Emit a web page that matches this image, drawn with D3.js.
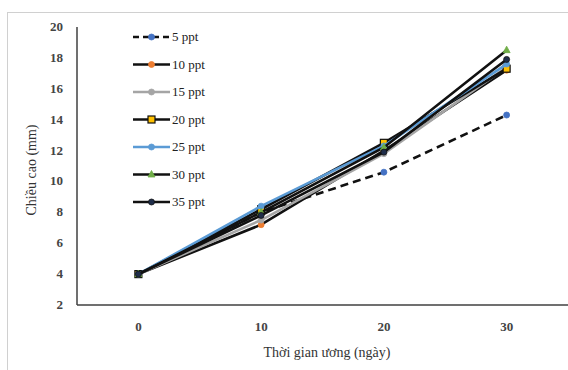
<!DOCTYPE html>
<html>
<head>
<meta charset="utf-8">
<script src="https://cdn.jsdelivr.net/npm/d3@7.9.0/dist/d3.min.js"></script>
<style>
  body { margin: 0; background: #fff; }
</style>
</head>
<body>
<div id="vis"></div>
<script>
// data
const days = ["0", "10", "20", "30"];
const seriesNames = ["5 ppt", "10 ppt", "15 ppt", "20 ppt", "25 ppt", "30 ppt", "35 ppt"];
const s5 = [4.0, 8.0, 10.6, 14.3];
const s10 = [4.0, 7.2, 12.0, 17.2];
const s15 = [4.0, 7.5, 11.8, 17.4];
const s20 = [4.0, 8.2, 12.5, 17.3];
const s25 = [4.0, 8.4, 12.3, 17.6];
const s30 = [4.0, 8.0, 12.2, 18.5];
const s35 = [4.0, 7.8, 11.9, 17.9];
const yTicks = [2, 4, 6, 8, 10, 12, 14, 16, 18, 20];

const width = 568;
const height = 370;
const serif = "Liberation Serif";

const styles = [
  { line: "#111", dash: "8,5", marker: "circle", fill: "#4472C4", stroke: "#4472C4" },
  { line: "#111", dash: null, marker: "circle", fill: "#ED7D31", stroke: "#ED7D31" },
  { line: "#A5A5A5", dash: null, marker: "circle", fill: "#A5A5A5", stroke: "#A5A5A5" },
  { line: "#111", dash: null, marker: "square", fill: "#FFC000", stroke: "#111" },
  { line: "#5B9BD5", dash: null, marker: "circle", fill: "#5B9BD5", stroke: "#5B9BD5" },
  { line: "#111", dash: null, marker: "triangle", fill: "#70AD47", stroke: "#70AD47" },
  { line: "#111", dash: null, marker: "circle", fill: "#1F2D4A", stroke: "#111" }
];
const allSeries = [s5, s10, s15, s20, s25, s30, s35];

const xScale = d3.scalePoint().domain(days).range([77, 568]).padding(0.5);
const yScale = d3.scaleLinear().domain([2, 20]).range([305, 27]);

const svg = d3
  .select("#vis")
  .append("svg")
  .attr("width", width)
  .attr("height", height)
  .attr("font-family", serif);

// outer frame
svg
  .append("rect")
  .attr("x", 7.5)
  .attr("y", 12.5)
  .attr("width", 580)
  .attr("height", 380)
  .attr("fill", "none")
  .attr("stroke", "#d0d0d0");

// y axis labels
svg
  .append("g")
  .selectAll("text")
  .data(yTicks)
  .enter()
  .append("text")
  .attr("x", 63)
  .attr("y", (d) => yScale(d) + 4)
  .attr("text-anchor", "end")
  .attr("font-size", 13)
  .attr("font-weight", "bold")
  .attr("fill", "#444")
  .text((d) => d);

// x axis labels
svg
  .append("g")
  .selectAll("text")
  .data(days)
  .enter()
  .append("text")
  .attr("x", (d) => xScale(d))
  .attr("y", 331)
  .attr("text-anchor", "middle")
  .attr("font-size", 13)
  .attr("font-weight", "bold")
  .attr("fill", "#444")
  .text((d) => d);

// axis lines
svg
  .append("line")
  .attr("x1", 77)
  .attr("x2", 77)
  .attr("y1", yScale(20))
  .attr("y2", yScale(2))
  .attr("stroke", "#404040")
  .attr("stroke-width", 1.5);
svg
  .append("line")
  .attr("x1", 77)
  .attr("x2", 568)
  .attr("y1", yScale(2))
  .attr("y2", yScale(2))
  .attr("stroke", "#404040")
  .attr("stroke-width", 1.5);

// axis titles
svg
  .append("text")
  .attr("x", 327)
  .attr("y", 357)
  .attr("text-anchor", "middle")
  .attr("font-size", 14)
  .attr("fill", "#333")
  .text("Thời gian ương (ngày)");
svg
  .append("text")
  .attr("transform", "translate(36,170) rotate(-90)")
  .attr("text-anchor", "middle")
  .attr("font-size", 14)
  .attr("fill", "#333")
  .text("Chiều cao (mm)");

function drawMarker(g, st, x, y) {
  if (st.marker == "circle") {
    g.append("circle").attr("cx", x).attr("cy", y).attr("r", 3)
      .attr("fill", st.fill).attr("stroke", st.stroke).attr("stroke-width", 0.8);
  } else if (st.marker == "square") {
    g.append("rect").attr("x", x - 3.5).attr("y", y - 3.5).attr("width", 7).attr("height", 7)
      .attr("fill", st.fill).attr("stroke", st.stroke).attr("stroke-width", 1.2);
  } else {
    g.append("path")
      .attr("d", `M${x},${y - 4}L${x + 3.5},${y + 2.5}L${x - 3.5},${y + 2.5}Z`)
      .attr("fill", st.fill).attr("stroke", st.stroke).attr("stroke-width", 0.8);
  }
}

const line = d3
  .line()
  .x((d, i) => xScale(days[i]))
  .y((d) => yScale(d));

// series
allSeries.forEach((vals, k) => {
  const st = styles[k];
  const g = svg.append("g");
  g.append("path")
    .attr("d", line(vals))
    .attr("fill", "none")
    .attr("stroke", st.line)
    .attr("stroke-width", 2.6)
    .attr("stroke-dasharray", st.dash);
  vals.forEach((v, i) => drawMarker(g, st, xScale(days[i]), yScale(v)));
});

// legend
const legend = svg.append("g");
seriesNames.forEach((name, k) => {
  const st = styles[k];
  const y = 37 + k * 27.5;
  legend.append("line")
    .attr("x1", 133).attr("x2", 170).attr("y1", y).attr("y2", y)
    .attr("stroke", st.line).attr("stroke-width", 2.6)
    .attr("stroke-dasharray", st.dash ? "6,4" : null);
  drawMarker(legend, st, 151.5, y);
  legend.append("text")
    .attr("x", 172).attr("y", y + 4)
    .attr("font-size", 13)
    .attr("fill", "#222")
    .text(name);
});
</script>
</body>
</html>
